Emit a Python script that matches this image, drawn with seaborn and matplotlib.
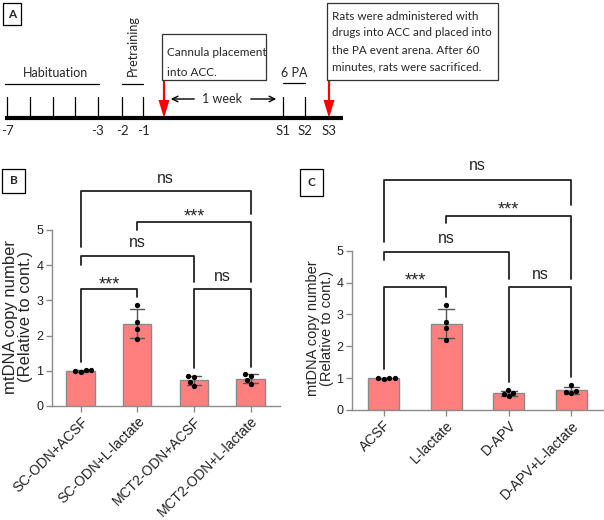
import numpy as np
import pandas as pd
import seaborn as sns
import matplotlib.pyplot as plt
from matplotlib.patches import Rectangle

# panel B: mtDNA copy number, 4 rats per group
groups_b = ['SC-ODN+ACSF', 'SC-ODN+L-lactate', 'MCT2-ODN+ACSF', 'MCT2-ODN+L-lactate']
sc_acsf = [0.97, 1.01, 1.00, 1.02]
sc_lactate = [2.88, 2.38, 2.18, 1.90]
mct2_acsf = [0.85, 0.82, 0.68, 0.57]
mct2_lactate = [0.90, 0.84, 0.73, 0.62]

# panel C
groups_c = ['ACSF', 'L-lactate', 'D-APV', 'D-APV+L-lactate']
acsf = [0.98, 1.01, 1.00, 1.01]
l_lactate = [3.28, 2.77, 2.58, 2.20]
d_apv = [0.63, 0.54, 0.49, 0.43]
d_apv_lactate = [0.78, 0.61, 0.56, 0.52]

# timeline (panel A)
day_labels = ['-7', '', '', '', '-3', '-2', '-1']
session_labels = ['S1', 'S2', 'S3']
box1_lines = ['Cannula placement', 'into ACC.']
box2_lines = ['Rats were administered with', 'drugs into ACC and placed into',
              'the PA event arena. After 60', 'minutes, rats were sacrificed.']

sns.set_style('ticks')
plt.rcParams['font.family'] = ['Liberation Sans', 'DejaVu Sans']
cal = ['Lato', 'DejaVu Sans']

fig = plt.figure(figsize=(6.04, 5.2), dpi=100)

# ---- panel A, drawn in pixel units ----
ax0 = fig.add_axes([0, 0, 1, 1])
ax0.set_xlim(0, 604)
ax0.set_ylim(520, 0)
ax0.set_axis_off()

ax0.plot([5, 343], [118, 118], color='black', lw=3, solid_capstyle='butt')
day_x = [7, 30, 53, 75, 98, 122, 143]
for x, lab in zip(day_x, day_labels):
    ax0.plot([x, x], [97, 118], color='black', lw=0.9)
    ax0.text(x, 131, lab, ha='center', va='center', fontsize=9.5, family=cal)
sess_x = [283, 305, 329]
for x, lab in zip(sess_x, session_labels):
    if lab != 'S3':
        ax0.plot([x, x], [97, 118], color='black', lw=0.9)
    ax0.text(x, 131, lab, ha='center', va='center', fontsize=9.5, family=cal)

for x in [164, 329]:
    ax0.arrow(x, 80, 0, 38, width=2.2, head_width=11, head_length=18,
              length_includes_head=True, color='#ff0000', lw=0)

ax0.plot([5, 99], [84, 84], color='black', lw=0.9)
ax0.text(55, 73, 'Habituation', ha='center', va='center', fontsize=9, family=cal)
ax0.plot([122, 143], [84, 84], color='black', lw=0.9)
ax0.text(133, 46, 'Pretraining', ha='center', va='center', rotation=90, fontsize=9, family=cal)
ax0.plot([283, 305], [83, 83], color='black', lw=0.9)
ax0.text(294, 73, '6 PA', ha='center', va='center', fontsize=9, family=cal)

ax0.annotate('', xy=(168, 99), xytext=(197, 99), arrowprops=dict(arrowstyle='->', lw=1, color='black'))
ax0.annotate('', xy=(279, 99), xytext=(248, 99), arrowprops=dict(arrowstyle='->', lw=1, color='black'))
ax0.text(222, 99, '1 week', ha='center', va='center', fontsize=9, family=cal)

ax0.add_patch(Rectangle((162, 34), 104, 46, fill=False, ec='#333333', lw=0.9))
for k, line in enumerate(box1_lines):
    ax0.text(167, 52 + 20 * k, line, ha='left', va='center', fontsize=8.5, family=cal)
ax0.add_patch(Rectangle((327, 3), 171, 77, fill=False, ec='#333333', lw=0.9))
for k, line in enumerate(box2_lines):
    ax0.text(332, 16 + 17 * k, line, ha='left', va='center', fontsize=8.4, family=cal)

for (x, y, w, h, lab) in [(3, 3, 18, 22, 'A'), (2, 169, 23, 24, 'B'), (300, 169, 23, 27, 'C')]:
    ax0.add_patch(Rectangle((x, y), w, h, fill=False, ec='black', lw=0.9))
    ax0.text(x + w / 2, y + h / 2, lab, ha='center', va='center', fontsize=8.5,
             fontweight='bold', family=cal)


def bar_panel(ax, groups, vals, brackets, ylab_size, label_xy):
    df = pd.DataFrame({'group': np.repeat(groups, 4), 'value': np.concatenate(vals)})
    sns.barplot(data=df, x='group', y='value', order=groups, errorbar='sd',
                color='#ff7f7f', saturation=1, width=0.5, edgecolor='#8a8a8a',
                linewidth=1, capsize=0.25,
                err_kws={'color': '#555555', 'linewidth': 1}, ax=ax)
    sns.swarmplot(data=df, x='group', y='value', order=groups, color='black',
                  size=3.8, ax=ax)
    ax.set_facecolor('none')
    ax.set_ylim(0, 5)
    ax.set_yticks(range(6))
    ax.set_xlim(-0.51, 3.52)
    ax.set_xlabel('')
    ax.set_ylabel('mtDNA copy number\n(Relative to cont.)', fontsize=ylab_size,
                  linespacing=1.0)
    ax.yaxis.set_label_coords(*label_xy)
    sns.despine(ax=ax)
    for s in ['left', 'bottom']:
        ax.spines[s].set_color('#8c8c8c')
        ax.spines[s].set_linewidth(1)
    ax.tick_params(axis='both', color='#8c8c8c', length=4, width=1, labelcolor='#222222')
    ax.tick_params(axis='y', labelsize=9, pad=2)
    ax.tick_params(axis='x', labelsize=10, pad=2)
    plt.setp(ax.get_xticklabels(), rotation=45, ha='right', rotation_mode='anchor')
    for i, j, yb, yl, yr, lab, yt in brackets:
        ax.plot([i, i, j, j], [yl, yb, yb, yr], color='#222222', lw=1.3, clip_on=False)
        ax.text((i + j) / 2, yt, lab, ha='center', va='center',
                fontsize=13 if lab == '***' else 11.5, clip_on=False)


axB = fig.add_axes([51.7 / 604, 1 - 406 / 520, 228.3 / 604, 176 / 520])
bar_panel(axB, groups_b, [sc_acsf, sc_lactate, mct2_acsf, mct2_lactate],
          [(0, 1, 3.31, 1.26, 3.09, '***', 3.45),
           (0, 2, 4.26, 4.00, 3.53, 'ns', 4.64),
           (2, 3, 3.31, 1.07, 1.12, 'ns', 3.67),
           (1, 3, 5.22, 5.00, 3.53, '***', 5.36),
           (0, 3, 6.11, 4.51, 5.45, 'ns', 6.47)],
          12, (-0.08, 0.507))

axC = fig.add_axes([351.7 / 604, 1 - 410 / 520, 252.3 / 604, 159.3 / 520])
bar_panel(axC, groups_c, [acsf, l_lactate, d_apv, d_apv_lactate],
          [(0, 1, 3.85, 1.28, 3.56, '***', 4.05),
           (0, 2, 4.97, 4.71, 4.10, 'ns', 5.39),
           (2, 3, 3.85, 0.89, 1.05, 'ns', 4.24),
           (1, 3, 6.10, 5.86, 4.10, '***', 6.28),
           (0, 3, 7.22, 5.28, 6.43, 'ns', 7.66)],
          10.5, (-0.07, 0.513))

fig.savefig('out.png', dpi=100)
